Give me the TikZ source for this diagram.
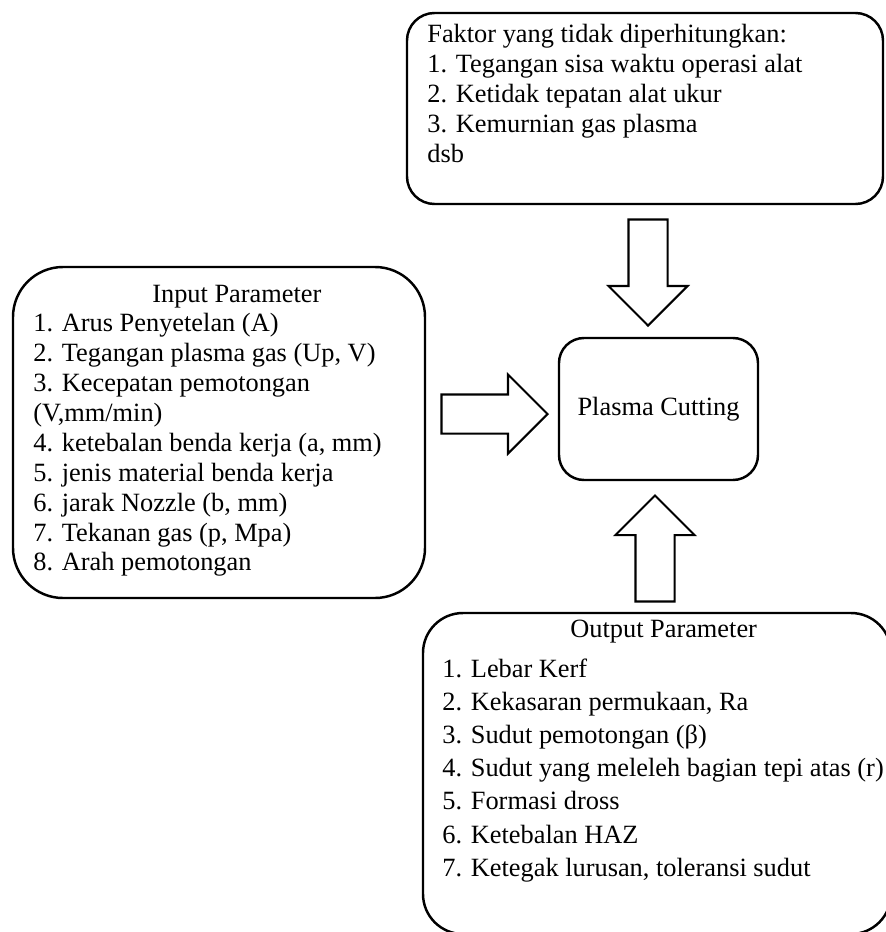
\documentclass[tikz,border=0pt]{standalone}
\usepackage{fontspec}
\setmainfont{Liberation Serif}
\usetikzlibrary{shapes,arrows,positioning}

\begin{document}
\begin{tikzpicture}[
    box/.style={rectangle, draw, line width=1.4pt, inner sep=0pt},
    txt/.style={anchor=north west, inner sep=0pt, align=left, font=\fontsize{15}{17}\selectfont},
    bigarrow/.style={single arrow, draw, line width=1.2pt, inner xsep=0pt, inner ysep=0.37cm,
        minimum height=2.12cm, single arrow head extend=0.4cm, anchor=tip}
]

\useasboundingbox (0,0) rectangle (17.72,-18.64);
\clip (0,0) rectangle (17.72,-18.64);

% Faktor yang tidak diperhitungkan
\node[box, rounded corners=0.55cm, minimum width=9.52cm, minimum height=3.82cm] (faktor) at (12.90,-2.17) {};
\node[txt] (faktortxt) at (8.54,-0.48) {
    Faktor yang tidak diperhitungkan:\\
    1. Tegangan sisa waktu operasi alat\\
    2. Ketidak tepatan alat ukur\\
    3. Kemurnian gas plasma\\
    dsb
};

% Input parameter
\node[box, rounded corners=1.0cm, minimum width=8.24cm, minimum height=6.62cm] (input) at (4.38,-8.65) {};
\node[txt] (inputtxt) at (0.66,-5.69) {
    \hspace*{2.38cm}Input Parameter\\
    1. Arus Penyetelan (A)\\
    2. Tegangan plasma gas (Up, V)\\
    3. Kecepatan pemotongan\\
    (V,mm/min)\\
    4. ketebalan benda kerja (a, mm)\\
    5. jenis material benda kerja\\
    6. jarak Nozzle (b, mm)\\
    7. Tekanan gas (p, Mpa)\\
    8. Arah pemotongan
};

% Plasma Cutting
\node[box, rounded corners=0.5cm, minimum width=3.98cm, minimum height=2.84cm,
    font=\fontsize{15}{17}\selectfont] (plasma) at (13.17,-8.18) {Plasma Cutting};

% Output parameter
\node[box, rounded corners=0.8cm, minimum width=9.36cm, minimum height=6.42cm] (output) at (13.14,-15.47) {};
\node[txt, font=\fontsize{15}{18.9}\selectfont] (outputtxt) at (8.84,-12.40) {
    \hspace*{2.56cm}Output Parameter\\[3.4pt]
    1. Lebar Kerf\\
    2. Kekasaran permukaan, Ra\\
    3. Sudut pemotongan (β)\\
    4. Sudut yang meleleh bagian tepi atas (r)\\
    5. Formasi dross\\
    6. Ketebalan HAZ\\
    7. Ketegak lurusan, toleransi sudut
};

% Block arrows into Plasma Cutting
\node[bigarrow, rotate=-90] (arrfaktor) at (12.96,-6.54) {};
\node[bigarrow] (arrinput) at (10.98,-8.28) {};
\node[bigarrow, rotate=90] (arroutput) at (13.10,-9.88) {};

\end{tikzpicture}
\end{document}
